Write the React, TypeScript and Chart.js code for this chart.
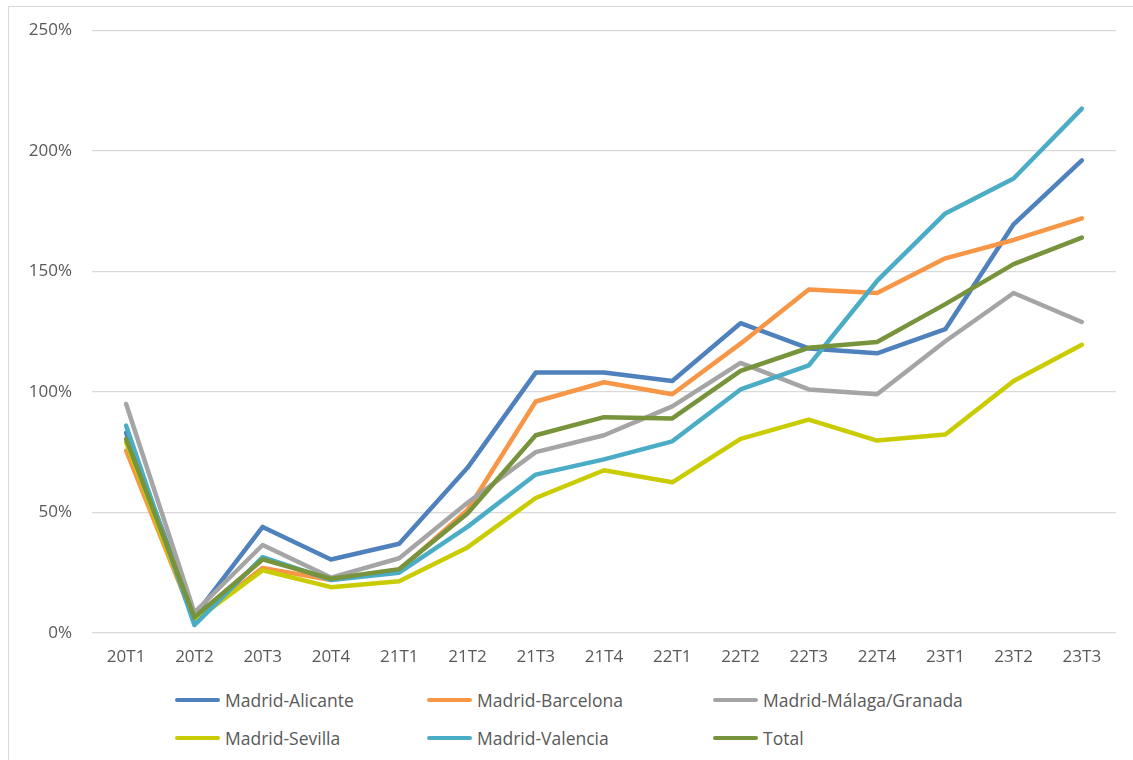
import React, { useEffect, useRef } from "react";
import { Chart, registerables } from "chart.js";

Chart.register(...registerables);

const categories = ["20T1","20T2","20T3","20T4","21T1","21T2","21T3","21T4","22T1","22T2","22T3","22T4","23T1","23T2","23T3"];
const alicante = [83, 7, 44, 30.5, 37, 68.5, 108, 108, 104.5, 128.5, 118, 116, 126, 169.5, 196];
const barcelona = [75.6, 5, 27, 22, 26, 51, 96, 104, 99, 120, 142.5, 141, 155.4, 163, 172];
const malaga = [95, 8.5, 36.5, 23, 31, 54, 75, 82, 94, 112, 101, 99, 121, 141, 129];
const sevilla = [79, 5, 26, 19, 21.5, 35.5, 56, 67.5, 62.5, 80.5, 88.5, 79.8, 82.3, 104.5, 119.5];
const valencia = [86, 3.3, 31.5, 22, 25, 44, 65.7, 72, 79.5, 101, 111, 146, 174, 188.5, 217.5];
const total = [80.5, 6.5, 30.5, 22.5, 26.5, 49.6, 82, 89.5, 89, 108.7, 118.3, 120.7, 136.4, 153, 164];
const yTicks = [0, 50, 100, 150, 200, 250];

const seriesNames = ["Madrid-Alicante","Madrid-Barcelona","Madrid-Málaga/Granada","Madrid-Sevilla","Madrid-Valencia","Total"];
const seriesData = [alicante, barcelona, malaga, sevilla, valencia, total];
const seriesColors = ["#4F81BD","#F79646","#A5A5A5","#C9CC00","#4BACC6","#77933C"];

const FONT = "'Open Sans', sans-serif";

export default function App() {
  const ref = useRef<HTMLCanvasElement | null>(null);
  useEffect(() => {
    if (!ref.current) return;
    const chart = new Chart(ref.current, {
      type: "line",
      data: {
        labels: categories,
        datasets: seriesNames.map((n, i) => ({
          label: n,
          data: seriesData[i],
          borderColor: seriesColors[i],
          backgroundColor: seriesColors[i],
          borderWidth: 4.5,
          borderCapStyle: "round" as const,
          borderJoinStyle: "round" as const,
          pointRadius: 0,
          tension: 0,
          order: seriesNames.length - i,
        })),
      },
      options: {
        responsive: false,
        animation: false,
        layout: { padding: { left: 0, right: 17, top: 21, bottom: 0 } },
        plugins: { legend: { display: false }, tooltip: { enabled: false } },
        scales: {
          x: {
            offset: true,
            grid: { display: false, drawTicks: false },
            border: { display: false },
            ticks: { color: "#595959", font: { family: FONT, size: 17 }, padding: 14, maxRotation: 0, autoSkip: false },
            afterFit: (s: any) => { s.height = 47; },
          },
          y: {
            min: 0,
            max: 250,
            afterBuildTicks: (s: any) => { s.ticks = yTicks.map((v) => ({ value: v })); },
            grid: { color: "#D9D9D9", lineWidth: 1.3, drawTicks: false },
            border: { display: false },
            ticks: { color: "#595959", font: { family: FONT, size: 17 }, padding: 20, callback: (v: any) => v + "%" },
            afterFit: (s: any) => { s.width = 92; },
          },
        },
      },
    });
    return () => chart.destroy();
  }, []);

  const legendCols = [175, 427, 713];
  return (
    <div style={{ position: "absolute", left: 0, top: 0, width: 1133, height: 760, overflow: "hidden", background: "#fff" }}>
      <div style={{ position: "absolute", left: 8, top: 6, width: 1200, height: 800, border: "1.5px solid #D9D9D9", boxSizing: "border-box" }} />
      <canvas ref={ref} width={1133} height={680} style={{ position: "absolute", left: 0, top: 0 }} />
      {seriesNames.map((n, i) => {
        const row = Math.floor(i / 3);
        const col = i % 3;
        return (
          <div key={n} style={{ position: "absolute", left: legendCols[col], top: 700 + row * 38 - 13, height: 26, display: "flex", alignItems: "center", fontFamily: FONT, fontSize: 17.5, color: "#595959", whiteSpace: "nowrap" }}>
            <span style={{ display: "inline-block", width: 45, height: 4.5, borderRadius: 3, background: seriesColors[i], marginRight: 5 }} />
            <span>{n}</span>
          </div>
        );
      })}
    </div>
  );
}
